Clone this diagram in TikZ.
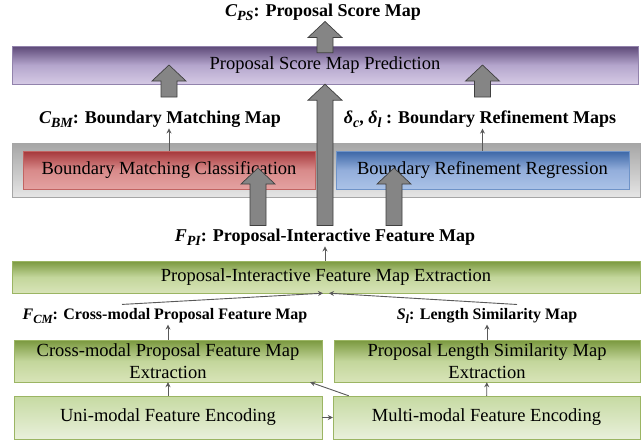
\documentclass[tikz,border=0pt]{standalone}
\usepackage{amsmath}
\usepackage{fontspec}
\setmainfont{Liberation Serif}
\usetikzlibrary{positioning,arrows.meta,calc,shadings}

\definecolor{purpT}{HTML}{5C4877}
\definecolor{purpM}{HTML}{B4A5CC}
\definecolor{purpB}{HTML}{D5CAE5}
\definecolor{purpE}{HTML}{9283AC}
\definecolor{redT}{HTML}{A5373A}
\definecolor{redM}{HTML}{D88A8A}
\definecolor{redB}{HTML}{E4A2A1}
\definecolor{redE}{HTML}{C26462}
\definecolor{bluT}{HTML}{3B66A6}
\definecolor{bluM}{HTML}{93AEDB}
\definecolor{bluB}{HTML}{AAC2E7}
\definecolor{bluE}{HTML}{6E93C8}
\definecolor{grnT}{HTML}{7A983E}
\definecolor{grnM}{HTML}{C3D69B}
\definecolor{grnB}{HTML}{D8E4B8}
\definecolor{grnE}{HTML}{9BB563}
\definecolor{lgrT}{HTML}{C6DAA2}
\definecolor{lgrB}{HTML}{E9F0DB}

\newcommand{\sym}[2]{{\itshape #1\raisebox{-0.22em}{\scalebox{0.78}{#2}}}}

\begin{document}
\begin{tikzpicture}[
  x=1pt, y=-1pt,
  >=Stealth,
  bar/.style={draw, inner sep=0pt, align=center, font=\fontsize{18.5}{22}\selectfont},
  greenbox/.style={bar, draw=grnE, top color=grnT, bottom color=grnB, middle color=grnM},
  lightbox/.style={bar, draw=grnE, top color=lgrT, bottom color=lgrB},
  lbl/.style={inner sep=1pt, font=\bfseries\fontsize{18}{20}\selectfont},
  slbl/.style={inner sep=1pt, font=\bfseries\fontsize{16}{18}\selectfont},
  link/.style={-{Stealth[length=5pt,width=5pt]}, draw=black!65, line width=0.9pt},
  fat/.style={draw=black!75, fill=black!48, line width=0.7pt,
    to path={let \p1=(\tikztostart), \p2=(\tikztotarget) in
      (\x1-8pt,\y1) -- (\x1-8pt,\y2-16pt) -- (\x1-17pt,\y2-16pt) -- (\x1,\y2)
      -- (\x1+17pt,\y2-16pt) -- (\x1+8pt,\y2-16pt) -- (\x1+8pt,\y1) -- cycle}}
]
  \path[use as bounding box, fill=white] (0,0) rectangle (642,440);

  % top: score map prediction
  \node[lbl] (cps) at (323,12) {\sym{C}{PS}: Proposal Score Map};
  \node[bar, minimum width=626pt, minimum height=38pt, draw=purpE, top color=purpT, bottom color=purpB, middle color=purpM] (pred) at (325,65) {Proposal Score Map Prediction};

  % second stage
  \node[lbl] (cbm) at (160,119) {\sym{C}{BM}: Boundary Matching Map};
  \node[lbl] (dlt) at (480,119) {\sym{δ}{c}, \sym{δ}{l} : Boundary Refinement Maps};
  \node[draw=black!35, top color=black!35, bottom color=black!10, minimum width=628pt, minimum height=54pt, inner sep=0pt] (grp) at (326,170) {};
  \node[bar, minimum width=292pt, minimum height=38pt, draw=redE, top color=redT, bottom color=redB, middle color=redM] (bmc) at (169,170) {Boundary Matching Classification};
  \node[bar, minimum width=293pt, minimum height=38pt, draw=bluE, top color=bluT, bottom color=bluB, middle color=bluM] (brr) at (482.5,170) {Boundary Refinement Regression};

  % proposal-interactive features
  \node[lbl] (fpi) at (325,237) {\sym{F}{PI}: Proposal-Interactive Feature Map};
  \node[greenbox, minimum width=628pt, minimum height=32pt] (pie) at (326,277) {Proposal-Interactive Feature Map Extraction};

  % first stage
  \node[slbl] (fcm) at (165,316) {\sym{F}{CM}: Cross-modal Proposal Feature Map};
  \node[slbl] (sl) at (487,316) {\sym{S}{l}: Length Similarity Map};
  \node[greenbox, minimum width=308pt, minimum height=42pt] (cm) at (168,361) {Cross-modal Proposal Feature Map\\Extraction};
  \node[greenbox, minimum width=306pt, minimum height=42pt] (ls) at (487,361) {Proposal Length Similarity Map\\Extraction};
  \node[lightbox, minimum width=308pt, minimum height=43pt] (uni) at (168,417.5) {Uni-modal Feature Encoding};
  \node[lightbox, minimum width=307pt, minimum height=43pt] (mul) at (486.5,417.5) {Multi-modal Feature Encoding};

  % thin connectors
  \draw[link] (uni) -- (cm);
  \draw[link] (mul) -- (ls);
  \draw[link] (uni) -- (mul);
  \draw[link] ([xshift=16pt]mul.north west) -- ([xshift=-12pt]cm.south east);
  \draw[link] (cm.north) -- (cm.north |- fcm.south);
  \draw[link] (ls.north) -- (ls.north |- sl.south);
  \draw[link] ([xshift=-43pt,yshift=3pt]fcm.north) -- ([xshift=-3pt]pie.south);
  \draw[link] ([xshift=30pt,yshift=3pt]sl.north) -- ([xshift=3pt]pie.south);
  \draw[link] (pie.north -| fpi) -- (fpi.south);
  \draw[link] (bmc.north) -- (bmc.north |- cbm.south);
  \draw[link] (brr.north) -- (brr.north |- dlt.south);

  % block arrows
  \coordinate (s1) at (169,97);
  \coordinate (s2) at (482.5,97);
  \draw[fat] (s1) to (s1 |- pred);
  \draw[fat] (s2) to (s2 |- pred);
  \draw[fat] ([xshift=-67pt,yshift=2pt]fpi.north) to ([xshift=-67pt,yshift=2pt]fpi.north |- bmc);
  \draw[fat] ([xshift=69pt,yshift=2pt]fpi.north) to ([xshift=69pt,yshift=2pt]fpi.north |- brr);
  \draw[fat] ([yshift=2pt]fpi.north) to (fpi.north |- pred.south);
  \draw[fat] ([yshift=-7pt]pred.north -| fpi) to (cps.south -| fpi);
\end{tikzpicture}
\end{document}
